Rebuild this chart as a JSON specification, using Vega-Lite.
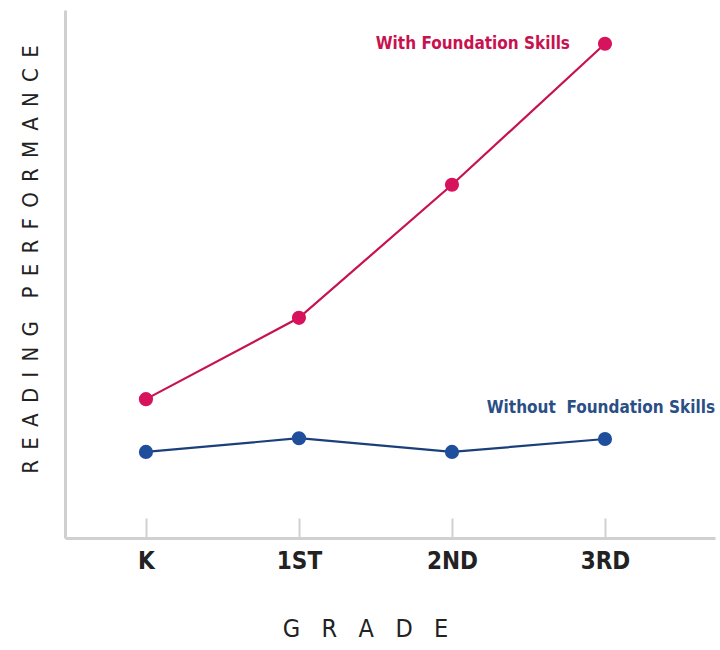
{
  "$schema": "https://vega.github.io/schema/vega-lite/v6.json",
  "width": 650,
  "height": 528,
  "autosize": "none",
  "padding": {"left": 65, "top": 10, "right": 5, "bottom": 112},
  "background": "white",
  "config": {
    "view": {"stroke": null},
    "font": "DejaVu Sans Condensed"
  },
  "datasets": {
    "series": [
      {"grade": 0, "label": "K", "group": "With Foundation Skills", "performance": 26.3},
      {"grade": 1, "label": "1ST", "group": "With Foundation Skills", "performance": 41.7},
      {"grade": 2, "label": "2ND", "group": "With Foundation Skills", "performance": 66.9},
      {"grade": 3, "label": "3RD", "group": "With Foundation Skills", "performance": 93.6},
      {"grade": 0, "label": "K", "group": "Without Foundation Skills", "performance": 16.3},
      {"grade": 1, "label": "1ST", "group": "Without Foundation Skills", "performance": 18.9},
      {"grade": 2, "label": "2ND", "group": "Without Foundation Skills", "performance": 16.3},
      {"grade": 3, "label": "3RD", "group": "Without Foundation Skills", "performance": 18.75}
    ],
    "notes": [
      {"grade": 3, "performance": 93.6, "text": "With Foundation Skills", "group": "With Foundation Skills"},
      {"grade": 3.719, "performance": 24.6, "text": "Without\u00a0\u00a0Foundation Skills", "group": "Without Foundation Skills"}
    ]
  },
  "layer": [
    {
      "data": {"name": "series"},
      "mark": {"type": "line", "strokeWidth": 2.2},
      "encoding": {
        "x": {
          "field": "grade",
          "type": "quantitative",
          "scale": {"domain": [-0.529, 3.719], "nice": false, "zero": false},
          "axis": {
            "values": [0, 1, 2, 3],
            "labelExpr": "['K','1ST','2ND','3RD'][datum.value]",
            "domainColor": "#d0d0d0",
            "domainWidth": 3,
            "tickColor": "#d0d0d0",
            "tickWidth": 2,
            "tickSize": -20,
            "grid": false,
            "labelFontSize": 24,
            "labelFontWeight": "bold",
            "labelColor": "#222222",
            "labelPadding": 43,
            "labelBaseline": "middle",
            "title": "G\u00a0\u00a0\u00a0R\u00a0\u00a0\u00a0A\u00a0\u00a0\u00a0D\u00a0\u00a0\u00a0E",
            "titleFontSize": 25,
            "titleFontWeight": "normal",
            "titleColor": "#222222",
            "titleX": 300,
            "titleY": 90,
            "titleBaseline": "middle"
          }
        },
        "y": {
          "field": "performance",
          "type": "quantitative",
          "scale": {"domain": [0, 100], "nice": false},
          "axis": {
            "ticks": false,
            "labels": false,
            "grid": false,
            "domainColor": "#d0d0d0",
            "domainWidth": 3,
            "title": "R\u00a0\u2009E\u00a0\u2009A\u00a0\u2009D\u00a0\u2009I\u00a0\u2009N\u00a0\u2009G\u00a0\u00a0\u00a0\u2009P\u00a0\u2009E\u00a0\u2009R\u00a0\u2009F\u00a0\u2009O\u00a0\u2009R\u00a0\u2009M\u00a0\u2009A\u00a0\u2009N\u00a0\u2009C\u00a0\u2009E",
            "titleFontSize": 22,
            "titleFontWeight": "normal",
            "titleColor": "#222222",
            "titleAngle": -90,
            "titleX": -35,
            "titleY": 249,
            "titleAlign": "center",
            "titleBaseline": "middle"
          }
        },
        "color": {
          "field": "group",
          "type": "nominal",
          "scale": {"domain": ["With Foundation Skills", "Without Foundation Skills"], "range": ["#c8124f", "#1b3f7a"]},
          "legend": null
        }
      }
    },
    {
      "data": {"name": "series"},
      "mark": {"type": "circle", "size": 200, "opacity": 1},
      "encoding": {
        "x": {"field": "grade", "type": "quantitative"},
        "y": {"field": "performance", "type": "quantitative"},
        "color": {
          "field": "group",
          "type": "nominal",
          "scale": {"domain": ["With Foundation Skills", "Without Foundation Skills"], "range": ["#d6135c", "#1f4e9c"]},
          "legend": null
        }
      }
    },
    {
      "data": {"name": "notes"},
      "transform": [{"filter": "datum.group === 'With Foundation Skills'"}],
      "mark": {"type": "text", "align": "right", "baseline": "middle", "fontSize": 17, "fontWeight": "bold", "color": "#c8124f", "dx": -35},
      "encoding": {
        "x": {"field": "grade", "type": "quantitative"},
        "y": {"field": "performance", "type": "quantitative"},
        "text": {"field": "text"}
      }
    },
    {
      "data": {"name": "notes"},
      "transform": [{"filter": "datum.group === 'Without Foundation Skills'"}],
      "mark": {"type": "text", "align": "right", "baseline": "middle", "fontSize": 17, "fontWeight": "bold", "color": "#2a4f85", "dx": 0},
      "encoding": {
        "x": {"field": "grade", "type": "quantitative"},
        "y": {"field": "performance", "type": "quantitative"},
        "text": {"field": "text"}
      }
    }
  ],
  "resolve": {"scale": {"color": "independent"}}
}
